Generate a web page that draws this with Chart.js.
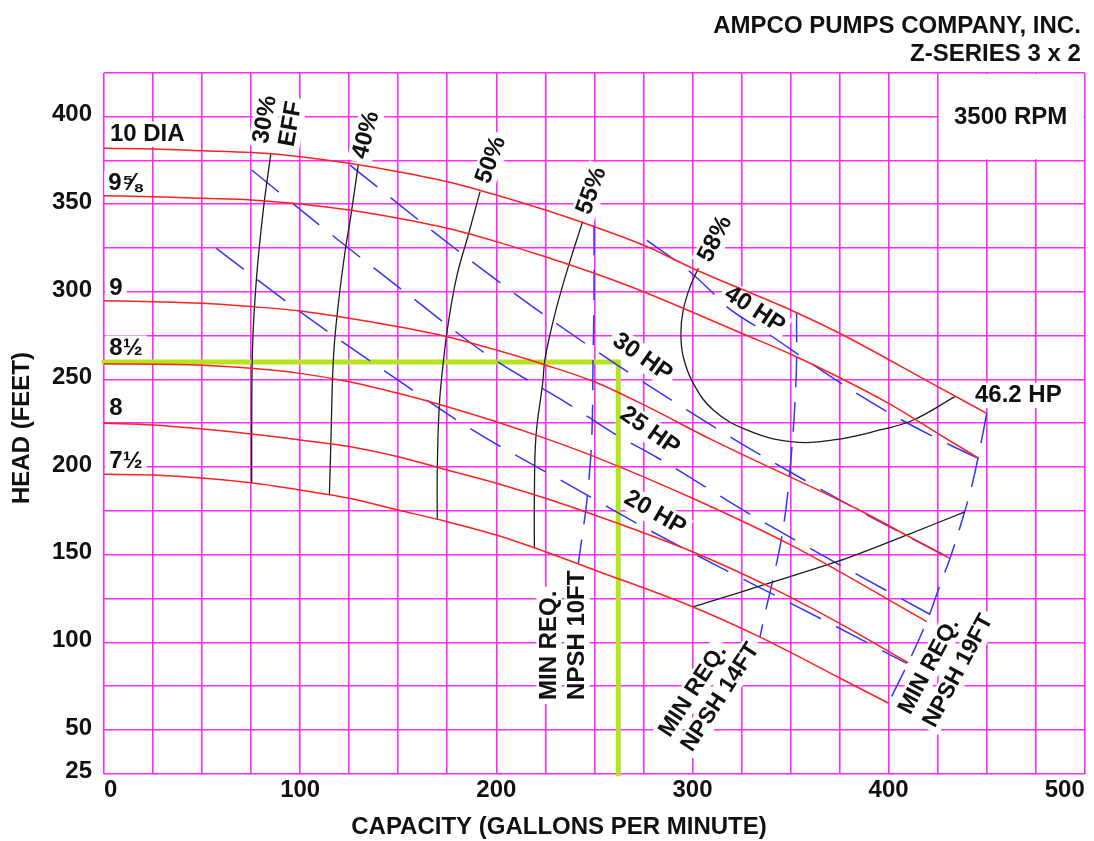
<!DOCTYPE html>
<html>
<head>
<meta charset="utf-8">
<script src="https://cdn.jsdelivr.net/npm/chart.js@4.4.1/dist/chart.umd.min.js"></script>
<style>
  html, body { margin: 0; padding: 0; background: #fff; }
  #wrap { width: 1094px; height: 841px; }
</style>
</head>
<body>
<div id="wrap"><canvas id="c" width="1094" height="841"></canvas></div>
<script>
// Axis tick labels
const flowTicks = [0, 100, 200, 300, 400, 500];
const headTicks = [25, 50, 100, 150, 200, 250, 300, 350, 400];

// Head-capacity curves per impeller diameter, [GPM, feet]
const dia10 = [[0,382],[25,381.6],[50,380.6],[75,379.5],[100,377.2],[125,373.4],[150,368.6],[175,362.9],[200,355.3],[225,346.7],[250,337.2],[277,325.8],[300,313.5],[350,289.7],[375,276.4],[425,245.9],[450,230.7]];
const dia9_58 = [[0,354.9],[25,354.3],[50,353.4],[75,352.5],[100,350.2],[125,346.7],[150,342],[175,336.3],[200,328.7],[225,320.1],[250,310.6],[275,300.1],[325,276.4],[351,264],[400,236.4],[425,219.3],[446,205]];
const dia9 = [[0,295],[25,294.4],[50,293.5],[75,291.6],[100,289.1],[125,285],[150,280.1],[175,274.4],[200,266.8],[225,258.3],[250,248.7],[277,234.5],[310,215.5],[385,175.5],[409,161.2],[431,148]];
const dia8_12 = [[0,259],[50,258.2],[75,256.4],[100,253.5],[125,248.7],[150,242.1],[175,234.5],[200,225.9],[225,216.4],[250,206],[300,182.2],[351,155],[419.4,111.8]];
const dia8 = [[0,225],[25,224],[75,218.9],[100,215.5],[125,211.7],[150,205.9],[175,198.3],[200,190.8],[225,182.2],[250,172.7],[300,151.7],[341,130.8],[372,112.7],[410,88.4]];
const dia7_12 = [[0,195.9],[25,195.5],[75,191.1],[100,186.9],[125,182.2],[150,175.5],[175,168.8],[200,161.2],[225,151.7],[250,141.3],[300,120.3],[334,103.2],[377,78.5],[400,65.2]];

// Efficiency contours, [GPM, feet]
const eff30 = [[85,378.5],[81.2,346.7],[77.8,308.7],[75.8,270.6],[75.3,226.9],[75.3,190.8]];
const eff40 = [[129.6,372.4],[125.5,341],[123,323.9],[119.5,293.5],[117,263],[115.6,211.6],[114.9,184]];
const eff50 = [[191.7,357.2],[185.7,332.5],[179.8,308.7],[175.5,282.1],[172.9,259.2],[170.9,234.5],[169.9,198.3],[169.9,169.8]];
const eff55 = [[244,340.1],[237.2,316.3],[230.4,289.7],[225,263],[223.6,247.8],[220.2,217.4],[219.4,183.1],[219.4,153.6]];
const eff55Right = [[300.4,120.3],[373.5,146],[409.2,161.2],[438.9,174.5]];
const eff58 = [[303,313.5],[298.8,303],[295.3,289.7],[294.1,276.4],[295.3,263],[300.4,247.8],[310.6,232.6],[327.6,221.2],[350.1,214.5],[371.8,215.5],[395.6,221.2],[412.6,226.9],[433.8,240.2]];

// Brake horsepower lines, [GPM, feet]
const hp20 = [[57.1,325],[98.2,290.1],[142.4,255.4],[186.6,222.1],[241.8,186.9],[273.2,166.9],[320,139.4],[368.4,111.8],[409.2,88]];
const hp25 = [[75.3,369.6],[111.9,336.3],[153.9,299.5],[196.8,263],[237.6,235.4],[259.5,219.5],[282.4,205.2],[328.6,173.6],[375.2,144.1],[421,116]];
const hp30 = [[125.4,372.4],[167.9,334.4],[210.4,298.2],[247.8,268.7],[268.1,253.5],[291.9,236.4],[321.7,215.5],[359.9,190.8],[392.2,170.8],[431.3,148]];
const hp40 = [[276.7,329.6],[298.7,311.5],[310.6,299.2],[317.4,291.6],[339.5,275.4],[361.6,258.3],[383.7,242.1],[406.7,226.9],[431.3,212.6],[445.7,205]];

// Minimum required NPSH boundaries, [GPM, feet]
const npsh10 = [[249.8,338.2],[249.8,295.4],[249.3,261.1],[248.6,215.5],[246.2,181.2],[243.7,160.1],[241.8,145]];
const npsh14 = [[353.1,288.5],[352.8,249.7],[349.7,198.3],[346.1,164.1],[341,135.6],[337,116.7],[334.4,103]];
const npsh19 = [[450,230.7],[447.4,215.5],[442.5,189.8],[436.4,165.8],[431.3,148],[426.2,132.7],[419.4,111.8],[410,88.4],[399.8,65.2]];

// Selected duty point guide, [GPM, feet]
const dutyGuide = [[0,260],[262.2,260],[262.2,25]];

// Text placed on the plot: anchor in [GPM, feet], rotation in degrees
const plotNotes = [
  { t: ['10 DIA'], at: [3, 390], rot: 0, align: 'left' },
  { t: ['9\u215D'], at: [2.2, 362], rot: 0, align: 'left' },
  { t: ['9'], at: [2.7, 302.1], rot: 0, align: 'left' },
  { t: ['8\u00BD'], at: [2.7, 267.9], rot: 0, align: 'left' },
  { t: ['8'], at: [2.7, 233.6], rot: 0, align: 'left' },
  { t: ['7\u00BD'], at: [2.7, 203.2], rot: 0, align: 'left' },
  { t: ['30%', 'EFF'], at: [88.7, 397.1], rot: -80, align: 'center', gap: 26 },
  { t: ['40%'], at: [133.6, 389.5], rot: -75, align: 'center' },
  { t: ['50%'], at: [197.3, 375.3], rot: -70, align: 'center' },
  { t: ['55%'], at: [248.6, 357.7], rot: -70, align: 'center' },
  { t: ['58%'], at: [311.6, 330.2], rot: -63, align: 'center' },
  { t: ['30 HP'], at: [274.5, 262.6], rot: 35, align: 'center' },
  { t: ['25 HP'], at: [278.3, 220.6], rot: 35, align: 'center' },
  { t: ['20 HP'], at: [280.9, 173.8], rot: 30, align: 'center' },
  { t: ['40 HP'], at: [331.7, 289.7], rot: 33, align: 'center' },
  { t: ['46.2 HP'], at: [444, 240.9], rot: 0, align: 'left' },
  { t: ['MIN REQ.', 'NPSH 10FT'], at: [234, 67.1], rot: -90, align: 'left', gap: 28 },
  { t: ['MIN REQ.', 'NPSH 14FT'], at: [291.4, 43.1], rot: -57, align: 'left', gap: 26.5, size: 23 },
  { t: ['MIN REQ.', 'NPSH 19FT'], at: [414.4, 56.2], rot: -62, align: 'left', gap: 28, size: 23 },
  { t: ['3500 RPM'], at: [433.3, 399.7], rot: 0, align: 'left' }
];

const GRID = '#ff2bff';
const RED = '#ff2020';
const BLUE = '#3333ff';
const BLACK = '#1c1c1c';
const GREEN = '#b4e41e';
const FAMILY = '"Liberation Sans", Arial, Helvetica, sans-serif';

const toXY = arr => arr.map(p => ({ x: p[0], y: p[1] }));
const datasets = [];
function addSeries(label, arr, style) {
  datasets.push(Object.assign({ label, data: toXY(arr), showLine: true, pointRadius: 0, pointHoverRadius: 0, fill: false }, style));
}

const headStyle = { borderColor: RED, borderWidth: 1.5, cubicInterpolationMode: 'monotone' };
addSeries('10 DIA', dia10, headStyle);
addSeries('9 5/8 DIA', dia9_58, headStyle);
addSeries('9 DIA', dia9, headStyle);
addSeries('8 1/2 DIA', dia8_12, headStyle);
addSeries('8 DIA', dia8, headStyle);
addSeries('7 1/2 DIA', dia7_12, headStyle);

const effStyle = { borderColor: BLACK, borderWidth: 1.3, tension: 0.4 };
addSeries('30% EFF', eff30, effStyle);
addSeries('40% EFF', eff40, effStyle);
addSeries('50% EFF', eff50, effStyle);
addSeries('55% EFF', eff55, effStyle);
addSeries('55% EFF (high flow)', eff55Right, Object.assign({}, effStyle, { tension: 0.3 }));
addSeries('58% EFF', eff58, effStyle);

const hpStyle = { borderColor: BLUE, borderWidth: 1.5, borderDash: [35, 17], cubicInterpolationMode: 'monotone' };
addSeries('20 HP', hp20, hpStyle);
addSeries('25 HP', hp25, hpStyle);
addSeries('30 HP', hp30, hpStyle);
addSeries('40 HP', hp40, hpStyle);

const npshStyle = { borderColor: BLUE, borderWidth: 1.5, borderDash: [30, 15], tension: 0.4 };
addSeries('NPSH 10FT', npsh10, npshStyle);
addSeries('NPSH 14FT', npsh14, npshStyle);
addSeries('NPSH 19FT', npsh19, npshStyle);

addSeries('Duty point', dutyGuide, { borderColor: GREEN, borderWidth: 5, tension: 0, borderCapStyle: 'square', borderJoinStyle: 'miter', clip: false });

// Runs a callback for every line of a note, in the note's rotated frame
function eachNoteLine(chart, note, cb) {
  const ctx = chart.ctx;
  const x = chart.scales.x.getPixelForValue(note.at[0]);
  const y = chart.scales.y.getPixelForValue(note.at[1]);
  const size = note.size || 24;
  ctx.save();
  ctx.font = 'bold ' + size + 'px ' + FAMILY;
  ctx.translate(x, y);
  ctx.rotate((note.rot || 0) * Math.PI / 180);
  const n = note.t.length, gap = note.gap || 26;
  note.t.forEach((s, i) => {
    const ly = (i - (n - 1) / 2) * gap;
    const w = ctx.measureText(s).width;
    const lx = note.align === 'left' ? 0 : -w / 2;
    cb(ctx, s, lx, ly, w, size);
  });
  ctx.restore();
}

const notesPlugin = {
  id: 'notes',
  beforeDatasetsDraw(chart) {
    const ctx = chart.ctx, xs = chart.scales.x, ys = chart.scales.y;
    ctx.save();
    ctx.fillStyle = '#fff';
    // open cell that holds the speed note
    const x0 = xs.getPixelForValue(425) + 1.2, x1 = xs.getPixelForValue(500) - 1.2;
    const y0 = ys.getPixelForValue(425) + 1.2, y1 = ys.getPixelForValue(375) - 1.2;
    ctx.fillRect(x0, y0, x1 - x0, y1 - y0);
    ctx.restore();
    // white backing behind each note so the grid breaks around the text
    plotNotes.forEach(note => eachNoteLine(chart, note, (c, s, lx, ly, w, size) => {
      const cap = size * 0.72, pad = 4;
      c.fillStyle = '#fff';
      c.fillRect(lx - pad, ly - cap / 2 - pad, w + 2 * pad, cap + 2 * pad);
    }));
  },
  afterDatasetsDraw(chart) {
    plotNotes.forEach(note => eachNoteLine(chart, note, (c, s, lx, ly) => {
      c.fillStyle = '#111';
      c.textAlign = 'left';
      c.textBaseline = 'middle';
      c.fillText(s, lx, ly);
    }));
  },
  afterDraw(chart) {
    const ctx = chart.ctx, area = chart.chartArea;
    ctx.save();
    ctx.fillStyle = '#111';
    ctx.font = 'bold 24px ' + FAMILY;
    ctx.textAlign = 'right';
    ctx.textBaseline = 'alphabetic';
    ctx.fillText('AMPCO PUMPS COMPANY, INC.', area.right - 4, 32.5);
    ctx.fillText('Z-SERIES 3 x 2', area.right - 4, 60.5);
    ctx.textAlign = 'center';
    ctx.fillText('CAPACITY (GALLONS PER MINUTE)', area.left + 455, 834);
    ctx.translate(22, 428);
    ctx.rotate(-Math.PI / 2);
    ctx.textBaseline = 'middle';
    ctx.fillText('HEAD (FEET)', 0, 0);
    ctx.restore();
  }
};

const tickFont = { family: FAMILY, size: 24, weight: 'bold' };

new Chart(document.getElementById('c'), {
  type: 'scatter',
  data: { datasets },
  plugins: [notesPlugin],
  options: {
    responsive: false,
    devicePixelRatio: 1,
    animation: false,
    events: [],
    layout: { padding: { top: 72.9, right: 9.2, left: 0, bottom: 0 } },
    plugins: { legend: { display: false }, tooltip: { enabled: false }, title: { display: false } },
    scales: {
      x: {
        type: 'linear',
        min: 0, max: 500,
        afterFit(scale) { scale.height = 67.3; },
        border: { display: false },
        grid: { color: GRID, lineWidth: 1.6, drawTicks: false },
        ticks: {
          stepSize: 25, autoSkip: false, maxRotation: 0, minRotation: 0, align: 'inner',
          padding: 2, color: '#111', font: tickFont,
          callback: v => flowTicks.includes(v) ? String(v) : ''
        }
      },
      y: {
        type: 'linear',
        min: 25, max: 425,
        afterFit(scale) { scale.width = 104; },
        border: { display: false },
        grid: { color: GRID, lineWidth: 1.6, drawTicks: false },
        ticks: {
          stepSize: 25, autoSkip: false, padding: 12, labelOffset: -2,
          color: '#111', font: tickFont,
          callback: v => headTicks.includes(v) ? String(v) : ''
        }
      }
    }
  }
});
</script>
</body>
</html>
